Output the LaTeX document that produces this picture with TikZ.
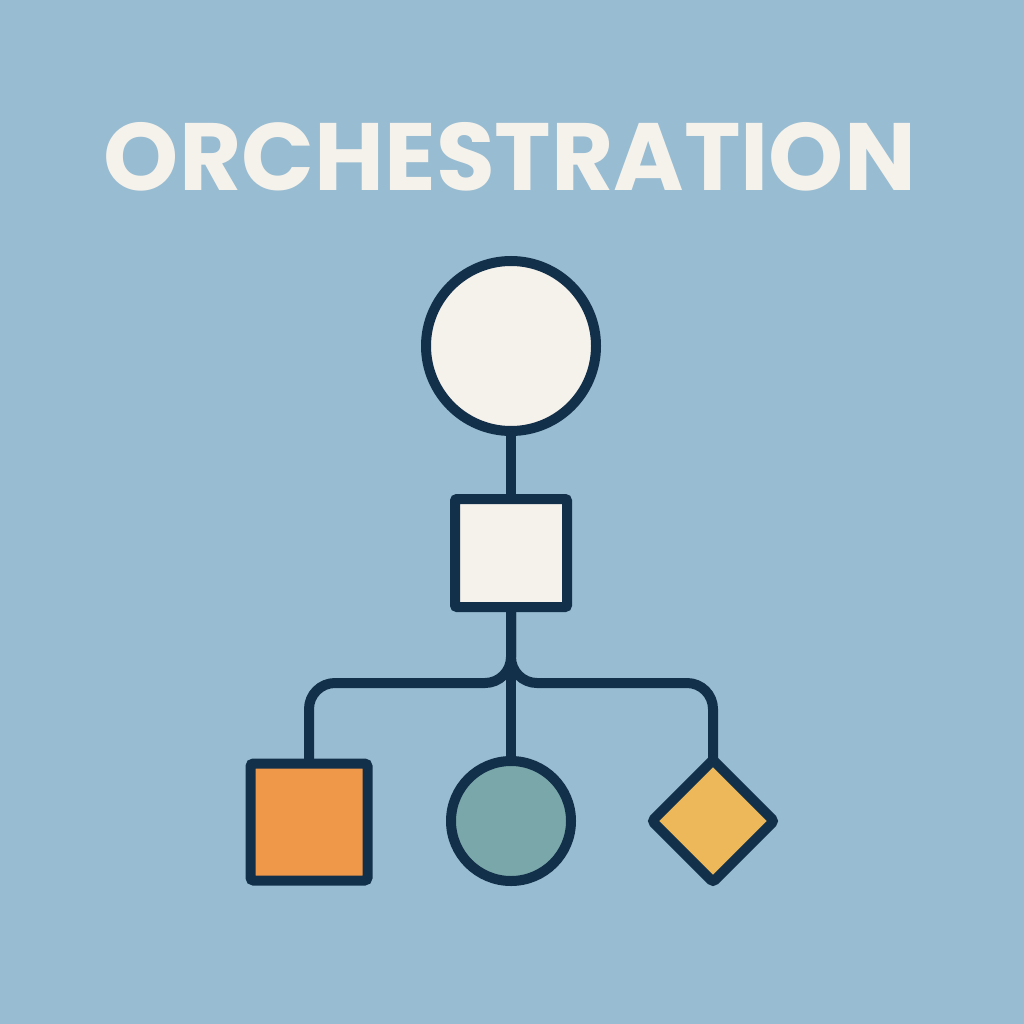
\documentclass[tikz,border=0pt]{standalone}
\usepackage{fontspec}
\usetikzlibrary{shapes.geometric}
\newfontfamily\titlefont{Poppins}
\definecolor{bg}{HTML}{98BCD1}
\definecolor{ink}{HTML}{13304A}
\definecolor{paper}{HTML}{F5F2EC}
\definecolor{orng}{HTML}{F0984A}
\definecolor{teal}{HTML}{7AA7AA}
\definecolor{gold}{HTML}{ECB85A}
\tikzset{
  shp/.style={draw=ink, line width=10pt, inner sep=0pt, outer sep=0pt},
  conn/.style={draw=ink, line width=10pt},
}
\begin{document}
\begin{tikzpicture}[x=1pt,y=-1pt]
\fill[bg] (0,0) rectangle (1024,1024);
\useasboundingbox (0,0) rectangle (1024,1024);
\node[text=paper, inner sep=0pt] (title) at (510,157)
  {\resizebox{812pt}{!}{\titlefont\bfseries\fontsize{100}{100}\selectfont ORCHESTRATION}};
% shapes
\node[shp, circle, fill=paper, minimum size=170pt] (top) at (511,346) {};
\node[shp, rectangle, rounded corners=2pt, fill=paper, minimum width=112pt, minimum height=108pt] (mid) at (511,553) {};
\coordinate (jl) at (309,683);
\coordinate (jr) at (713,683);
\node[shp, rectangle, rounded corners=3pt, fill=orng, minimum width=117pt, minimum height=117pt] (lsq) at (309,822) {};
\node[shp, circle, fill=teal, minimum size=120pt] (cir) at (511,821) {};
\node[shp, diamond, rounded corners=3pt, fill=gold, minimum size=122pt] (dia) at (713,821) {};
% connectors
\draw[conn] (top.south) -- (mid.north);
\draw[conn, rounded corners=26pt] (mid.south) |- (jl) -- (lsq.north);
\draw[conn, rounded corners=26pt] (mid.south) |- (jr) -- (dia.north);
\draw[conn] (mid.south) -- (cir.north);
\end{tikzpicture}
\end{document}
